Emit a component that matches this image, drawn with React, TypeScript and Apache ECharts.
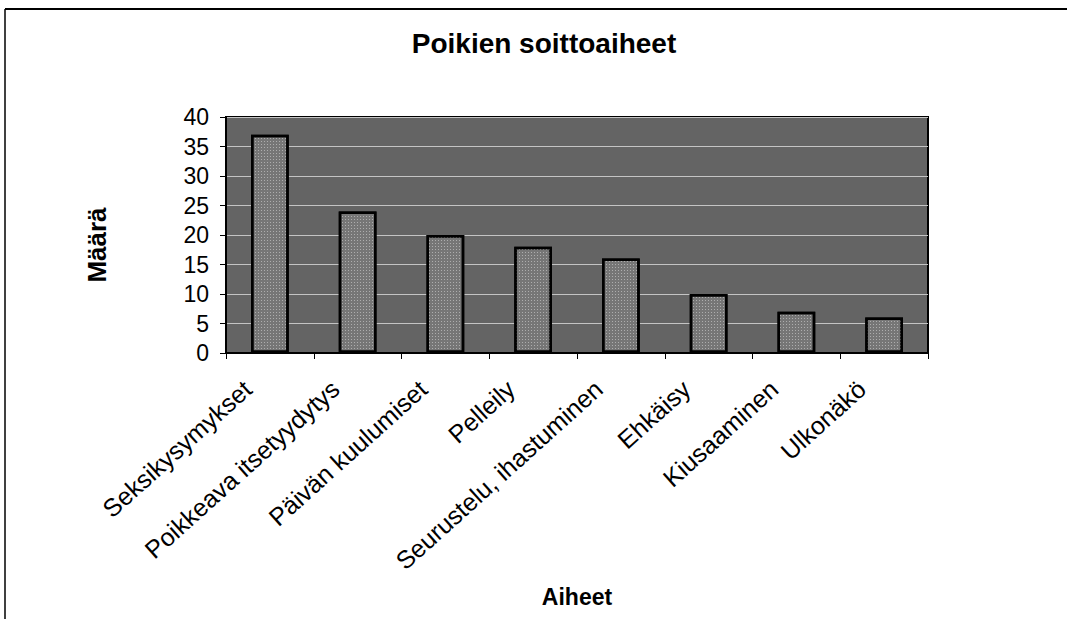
import React, { useEffect, useRef } from "react";
import * as echarts from "echarts";

const titleText = "Poikien soittoaiheet";
const xAxisName = "Aiheet";
const yAxisName = "Määrä";
const categories = [
  "Seksikysymykset",
  "Poikkeava itsetyydytys",
  "Päivän kuulumiset",
  "Pelleily",
  "Seurustelu, ihastuminen",
  "Ehkäisy",
  "Kiusaaminen",
  "Ulkonäkö",
];
const values = [37, 24, 20, 18, 16, 10, 7, 6];
const yMin = 0;
const yMax = 40;
const yInterval = 5;

const FONT = "Liberation Sans, Arial, sans-serif";

export default function App() {
  const ref = useRef<HTMLDivElement>(null);
  useEffect(() => {
    document.body.style.margin = "0";
    const chart = echarts.init(ref.current!, null, { renderer: "svg" });
    chart.setOption({
      animation: false,
      backgroundColor: "#ffffff",
      title: {
        text: titleText,
        left: 539,
        top: 24,
        textAlign: "center",
        textStyle: { fontFamily: FONT, fontSize: 28, fontWeight: "bold", color: "#000" },
      },
      grid: {
        left: 226,
        right: 139,
        top: 117,
        bottom: 266,
        show: true,
        backgroundColor: "#646464",
        borderColor: "#000",
        borderWidth: 2,
      },
      xAxis: {
        type: "category",
        data: categories,
        name: xAxisName,
        nameLocation: "middle",
        nameGap: 232,
        nameTextStyle: { fontFamily: FONT, fontSize: 23, fontWeight: "bold", color: "#000" },
        axisLine: { show: true, lineStyle: { color: "#000", width: 2 } },
        axisTick: { show: true, length: 6, lineStyle: { color: "#000", width: 1 } },
        axisLabel: {
          rotate: 42,
          margin: 12,
          interval: 0,
          padding: [0, 30, 0, 0],
          fontFamily: FONT,
          fontSize: 25,
          color: "#000",
        },
      },
      yAxis: {
        type: "value",
        min: yMin,
        max: yMax,
        interval: yInterval,
        name: yAxisName,
        nameLocation: "middle",
        nameGap: 116,
        nameRotate: 90,
        nameTextStyle: { fontFamily: FONT, fontSize: 26, fontWeight: "bold", color: "#000", padding: [0, 20, 0, 0] },
        axisLine: { show: true, lineStyle: { color: "#000", width: 2 } },
        axisTick: { show: true, length: 6, lineStyle: { color: "#000", width: 1 } },
        axisLabel: { margin: 17, fontFamily: FONT, fontSize: 23, color: "#000" },
        splitLine: { show: true, lineStyle: { color: "#c4c4c4", width: 1 } },
      },
      series: [
        {
          type: "bar",
          data: values,
          barWidth: "43%",
          itemStyle: {
            color: "#767676",
            borderColor: "#000",
            borderWidth: 2.5,
            decal: {
              symbol: "rect",
              symbolSize: 1,
              dashArrayX: [1, 2],
              dashArrayY: [1, 2],
              color: "rgba(255,255,255,0.4)",
            },
          },
        },
      ],
      graphic: [
        { type: "line", shape: { x1: 5, y1: 9, x2: 1067, y2: 9 }, style: { stroke: "#000", lineWidth: 2 } },
        { type: "line", shape: { x1: 5, y1: 9, x2: 5, y2: 619 }, style: { stroke: "#000", lineWidth: 1.5 } },
      ],
    });
    return () => chart.dispose();
  }, []);
  return <div ref={ref} style={{ position: "absolute", left: 0, top: 0, width: 1067, height: 619 }} />;
}
